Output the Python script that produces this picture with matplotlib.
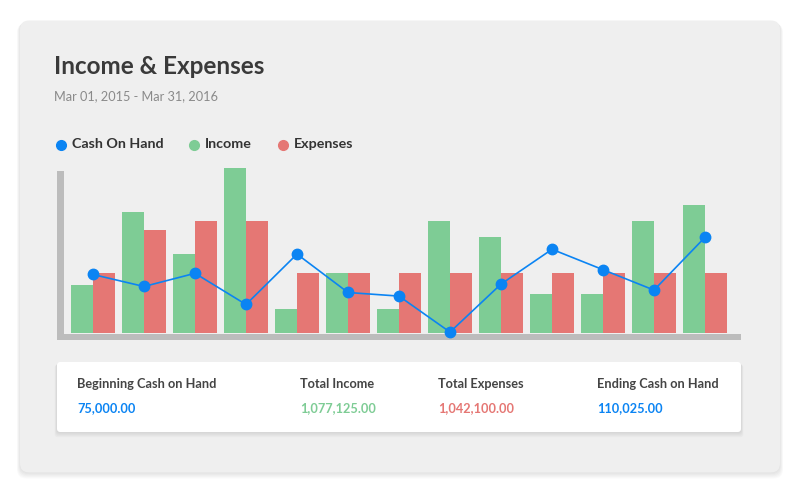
import numpy as np
import matplotlib
matplotlib.use("Agg")
import matplotlib.pyplot as plt
from matplotlib.patches import FancyBboxPatch, Rectangle

plt.rcParams['font.family'] = ['Lato', 'DejaVu Sans']

# data (thousands)
income = [40, 101, 66, 138, 20, 50, 20, 94, 80, 33, 33, 94, 107]
expenses = [50, 86, 94, 94, 50, 50, 50, 50, 50, 50, 50, 50, 50]
cash_on_hand = [49, 39, 50, 24, 66, 34, 31, 1, 41, 70, 53, 36, 80]

legend_labels = ["Cash On Hand", "Income", "Expenses"]
summary_labels = ["Beginning Cash on Hand", "Total Income", "Total Expenses", "Ending Cash on Hand"]
summary_values = ["75,000.00", "1,077,125.00", "1,042,100.00", "110,025.00"]

BLUE = "#0b84f3"
GREEN = "#7ecc95"
RED = "#e57774"
AXIS_GRAY = "#bcbcbc"
CARD_BG = "#efefef"

W, H = 800, 500
fig = plt.figure(figsize=(8, 5), dpi=100)
fig.patch.set_facecolor("white")

# background axes in pixel coords (y down)
bg = fig.add_axes([0, 0, 1, 1], zorder=0)
bg.set_xlim(0, W)
bg.set_ylim(H, 0)
bg.axis("off")


def rounded(ax, x, y, w, h, r, color, alpha=1.0, z=1):
    p = FancyBboxPatch((x, y), w, h, boxstyle=f"round,pad=0,rounding_size={r}",
                       facecolor=color, edgecolor="none", alpha=alpha, zorder=z)
    ax.add_patch(p)


# outer card with soft shadow
for i in range(6):
    rounded(bg, 20 - i * 0.6, 21 + i * 0.5, 760 + i * 1.2, 452 + i * 0.6, 9,
            "black", alpha=0.018, z=1)
rounded(bg, 20, 20.5, 760, 452, 9, CARD_BG, z=2)

# inner summary card with shadow
for i in range(5):
    rounded(bg, 57 - i * 0.6, 362 + i * 0.7, 684 + i * 1.2, 70 + i * 0.6, 3,
            "black", alpha=0.025, z=3)
rounded(bg, 57, 362, 684, 70, 3, "white", z=4)

# chart axis lines
bg.add_patch(Rectangle((57, 171), 7, 169, facecolor=AXIS_GRAY, edgecolor="none", zorder=5))
bg.add_patch(Rectangle((57, 333.5), 684, 6.5, facecolor=AXIS_GRAY, edgecolor="none", zorder=5))

# title, subtitle
bg.text(54, 67, "Income & Expenses", fontsize=17.5, fontweight="bold", color="#3a3a3a",
        va="center", ha="left", zorder=6)
bg.text(54, 96, "Mar 01, 2015 - Mar 31, 2016", fontsize=9.2, color="#8a8a8a",
        va="center", ha="left", zorder=6)

# legend
legend_colors = [BLUE, GREEN, RED]
legend_x = [61, 194, 283]
for lx, lab, col in zip(legend_x, legend_labels, legend_colors):
    bg.plot(lx, 144.5, "o", ms=7, color=col, zorder=6)
    bg.text(lx + 11, 144.5, lab, fontsize=10.3, fontweight="bold", color="#333333",
            va="center", ha="left", zorder=6)

# summary card text
summary_x = [77, 300, 438, 597]
summary_colors = [BLUE, GREEN, RED, BLUE]
for sx, lab, val, col in zip(summary_x, summary_labels, summary_values, summary_colors):
    bg.text(sx, 384, lab, fontsize=9.2, fontweight="bold", color="#444444",
            va="center", ha="left", zorder=6)
    bg.text(sx, 408, val, fontsize=9.2, fontweight="bold", color=col,
            va="center", ha="left", zorder=6)

# chart axes: group boundary at px 93 + 51*i, baseline at y=333.3
left_px, right_px = 64, 741
top_px, base_px = 160, 333.3
ax = fig.add_axes([left_px / W, 1 - base_px / H, (right_px - left_px) / W, (base_px - top_px) / H],
                  zorder=1)
ax.patch.set_alpha(0)
ax.set_xlim((left_px - 93) / 51, (right_px - 93) / 51)
ax.set_ylim(0, (base_px - top_px) / 1.2)
ax.axis("off")

x = np.arange(len(income))
bw = 22 / 51
ax.bar(x - bw / 2, income, width=bw, color=GREEN, zorder=2)
ax.bar(x + bw / 2, expenses, width=bw, color=RED, zorder=2)
ax.plot(x, cash_on_hand, color=BLUE, lw=1.2, marker="o", ms=7.5, zorder=3, clip_on=False)

fig.savefig("out.png", dpi=100)
